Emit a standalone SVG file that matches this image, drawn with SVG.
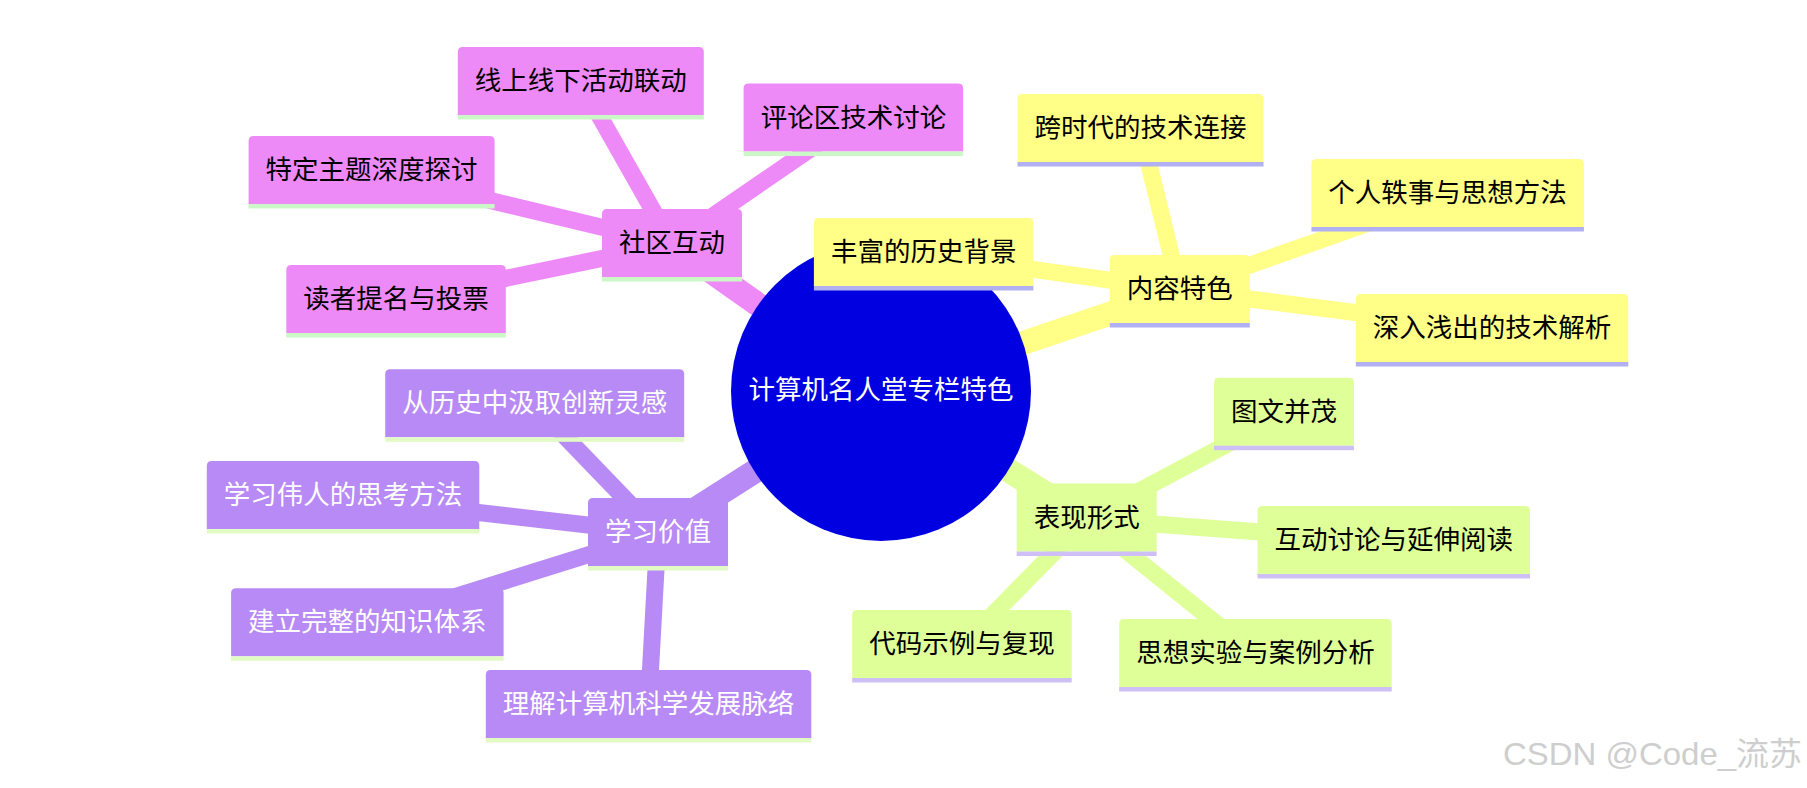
<svg xmlns="http://www.w3.org/2000/svg" width="1807" height="788" viewBox="0 0 1807 788">
<style>
.t{font-family:"Noto Sans CJK SC","Noto Sans",sans-serif;font-size:26.5px;text-anchor:middle}
.dk{fill:#000}
.lt{fill:#fff}
.pk{fill:#EE8AF8}
.yl{fill:#FFFF88}
.lm{fill:#DFFF99}
.pu{fill:#B88AF5}
.ulpk{fill:#CBF8C6}
.ulyl{fill:#B0B0F2}
.ullm{fill:#CEC0F6}
.ulpu{fill:#E2FAC4}
.e0{stroke-width:24;fill:none}
.e1{stroke-width:17;fill:none}
.spk{stroke:#EE8AF8}
.syl{stroke:#FFFF88}
.slm{stroke:#DFFF99}
.spu{stroke:#B88AF5}
</style>
<rect width="1807" height="788" fill="#fff"/>
<g id="connectors">
<line class="e0 spk" x1="881" y1="391" x2="672" y2="244"/>
<line class="e0 syl" x1="881" y1="391" x2="1179.8" y2="290"/>
<line class="e0 slm" x1="881" y1="391" x2="1086.7" y2="519"/>
<line class="e0 spu" x1="881" y1="391" x2="658" y2="533"/>
<line class="e1 spk" x1="672" y1="244" x2="580.8" y2="83"/>
<line class="e1 spk" x1="672" y1="244" x2="853.4" y2="119.5"/>
<line class="e1 spk" x1="672" y1="244" x2="371.6" y2="172"/>
<line class="e1 spk" x1="672" y1="244" x2="396" y2="301"/>
<line class="e1 syl" x1="1179.8" y1="290" x2="1140.5" y2="130"/>
<line class="e1 syl" x1="1179.8" y1="290" x2="1447.6" y2="195"/>
<line class="e1 syl" x1="1179.8" y1="290" x2="923.7" y2="254"/>
<line class="e1 syl" x1="1179.8" y1="290" x2="1492" y2="330"/>
<line class="e1 slm" x1="1086.7" y1="519" x2="1284" y2="414"/>
<line class="e1 slm" x1="1086.7" y1="519" x2="1393.8" y2="542"/>
<line class="e1 slm" x1="1086.7" y1="519" x2="962" y2="646"/>
<line class="e1 slm" x1="1086.7" y1="519" x2="1255.5" y2="655"/>
<line class="e1 spu" x1="658" y1="533" x2="534.7" y2="405"/>
<line class="e1 spu" x1="658" y1="533" x2="343" y2="497"/>
<line class="e1 spu" x1="658" y1="533" x2="367.3" y2="624"/>
<line class="e1 spu" x1="658" y1="533" x2="648.5" y2="706"/>
</g>
<g id="root">
<circle cx="881" cy="391" r="150" fill="#0000E0"/>
<text class="t lt" x="881" y="399">计算机名人堂专栏特色</text>
</g>
<g id="n-shequ">
<path class="pk" d="M602,277 V214 Q602,209 607,209 H737 Q742,209 742,214 V277 Z"/>
<rect class="ulpk" x="602" y="277" width="140" height="4.5"/>
<text class="t dk" x="672" y="252">社区互动</text>
</g>
<g id="n-xianshang">
<path class="pk" d="M457.8,115 V52 Q457.8,47 462.8,47 H698.8 Q703.8,47 703.8,52 V115 Z"/>
<rect class="ulpk" x="457.8" y="115" width="246" height="4.5"/>
<text class="t dk" x="580.8" y="90">线上线下活动联动</text>
</g>
<g id="n-pinglun">
<path class="pk" d="M743.6,151.5 V88.5 Q743.6,83.5 748.6,83.5 H958.1 Q963.1,83.5 963.1,88.5 V151.5 Z"/>
<rect class="ulpk" x="743.6" y="151.5" width="219.5" height="4.5"/>
<text class="t dk" x="853.4" y="126.5">评论区技术讨论</text>
</g>
<g id="n-teding">
<path class="pk" d="M248.6,204 V141 Q248.6,136 253.6,136 H489.6 Q494.6,136 494.6,141 V204 Z"/>
<rect class="ulpk" x="248.6" y="204" width="246" height="4.5"/>
<text class="t dk" x="371.6" y="179">特定主题深度探讨</text>
</g>
<g id="n-duzhe">
<path class="pk" d="M286.3,333 V270 Q286.3,265 291.3,265 H500.8 Q505.8,265 505.8,270 V333 Z"/>
<rect class="ulpk" x="286.3" y="333" width="219.5" height="4.5"/>
<text class="t dk" x="396" y="308">读者提名与投票</text>
</g>
<g id="n-neirong">
<path class="yl" d="M1109.8,323 V260 Q1109.8,255 1114.8,255 H1244.8 Q1249.8,255 1249.8,260 V323 Z"/>
<rect class="ulyl" x="1109.8" y="323" width="140" height="4.5"/>
<text class="t dk" x="1179.8" y="298">内容特色</text>
</g>
<g id="n-kuashidai">
<path class="yl" d="M1017.5,162 V99 Q1017.5,94 1022.5,94 H1258.5 Q1263.5,94 1263.5,99 V162 Z"/>
<rect class="ulyl" x="1017.5" y="162" width="246" height="4.5"/>
<text class="t dk" x="1140.5" y="137">跨时代的技术连接</text>
</g>
<g id="n-geren">
<path class="yl" d="M1311.4,227 V164 Q1311.4,159 1316.4,159 H1578.9 Q1583.9,159 1583.9,164 V227 Z"/>
<rect class="ulyl" x="1311.4" y="227" width="272.5" height="4.5"/>
<text class="t dk" x="1447.6" y="202">个人轶事与思想方法</text>
</g>
<g id="n-fengfu">
<path class="yl" d="M813.9,286 V223 Q813.9,218 818.9,218 H1028.4 Q1033.4,218 1033.4,223 V286 Z"/>
<rect class="ulyl" x="813.9" y="286" width="219.5" height="4.5"/>
<text class="t dk" x="923.7" y="261">丰富的历史背景</text>
</g>
<g id="n-shenru">
<path class="yl" d="M1355.8,362 V299 Q1355.8,294 1360.8,294 H1623.3 Q1628.3,294 1628.3,299 V362 Z"/>
<rect class="ulyl" x="1355.8" y="362" width="272.5" height="4.5"/>
<text class="t dk" x="1492" y="337">深入浅出的技术解析</text>
</g>
<g id="n-biaoxian">
<path class="lm" d="M1016.7,551.5 V488.5 Q1016.7,483.5 1021.7,483.5 H1151.7 Q1156.7,483.5 1156.7,488.5 V551.5 Z"/>
<rect class="ullm" x="1016.7" y="551.5" width="140" height="4.5"/>
<text class="t dk" x="1086.7" y="526.5">表现形式</text>
</g>
<g id="n-tuwen">
<path class="lm" d="M1214,445.7 V382.7 Q1214,377.7 1219,377.7 H1349 Q1354,377.7 1354,382.7 V445.7 Z"/>
<rect class="ullm" x="1214" y="445.7" width="140" height="4.5"/>
<text class="t dk" x="1284" y="420.7">图文并茂</text>
</g>
<g id="n-hudong">
<path class="lm" d="M1257.5,574 V511 Q1257.5,506 1262.5,506 H1525 Q1530,506 1530,511 V574 Z"/>
<rect class="ullm" x="1257.5" y="574" width="272.5" height="4.5"/>
<text class="t dk" x="1393.8" y="549">互动讨论与延伸阅读</text>
</g>
<g id="n-daima">
<path class="lm" d="M852.2,678 V615 Q852.2,610 857.2,610 H1066.7 Q1071.7,610 1071.7,615 V678 Z"/>
<rect class="ullm" x="852.2" y="678" width="219.5" height="4.5"/>
<text class="t dk" x="962" y="653">代码示例与复现</text>
</g>
<g id="n-sixiang">
<path class="lm" d="M1119.2,687 V624 Q1119.2,619 1124.2,619 H1386.7 Q1391.7,619 1391.7,624 V687 Z"/>
<rect class="ullm" x="1119.2" y="687" width="272.5" height="4.5"/>
<text class="t dk" x="1255.5" y="662">思想实验与案例分析</text>
</g>
<g id="n-xuexi">
<path class="pu" d="M588,566 V503 Q588,498 593,498 H723 Q728,498 728,503 V566 Z"/>
<rect class="ulpu" x="588" y="566" width="140" height="4.5"/>
<text class="t lt" x="658" y="541">学习价值</text>
</g>
<g id="n-congLishi">
<path class="pu" d="M385.2,437.3 V374.3 Q385.2,369.3 390.2,369.3 H679.2 Q684.2,369.3 684.2,374.3 V437.3 Z"/>
<rect class="ulpu" x="385.2" y="437.3" width="299" height="4.5"/>
<text class="t lt" x="534.7" y="412.3">从历史中汲取创新灵感</text>
</g>
<g id="n-weiren">
<path class="pu" d="M206.8,529 V466 Q206.8,461 211.8,461 H474.3 Q479.3,461 479.3,466 V529 Z"/>
<rect class="ulpu" x="206.8" y="529" width="272.5" height="4.5"/>
<text class="t lt" x="343" y="504">学习伟人的思考方法</text>
</g>
<g id="n-tixi">
<path class="pu" d="M231.1,656.3 V593.3 Q231.1,588.3 236.1,588.3 H498.6 Q503.6,588.3 503.6,593.3 V656.3 Z"/>
<rect class="ulpu" x="231.1" y="656.3" width="272.5" height="4.5"/>
<text class="t lt" x="367.3" y="631.3">建立完整的知识体系</text>
</g>
<g id="n-lijie">
<path class="pu" d="M485.8,738 V675 Q485.8,670 490.8,670 H806.3 Q811.3,670 811.3,675 V738 Z"/>
<rect class="ulpu" x="485.8" y="738" width="325.5" height="4.5"/>
<text class="t lt" x="648.5" y="713">理解计算机科学发展脉络</text>
</g>
<text x="1503" y="765" textLength="299" lengthAdjust="spacingAndGlyphs" font-family="&quot;Liberation Sans&quot;,&quot;Noto Sans CJK SC&quot;,sans-serif" font-size="32" fill="#cecece">CSDN @Code_流苏</text>
</svg>
